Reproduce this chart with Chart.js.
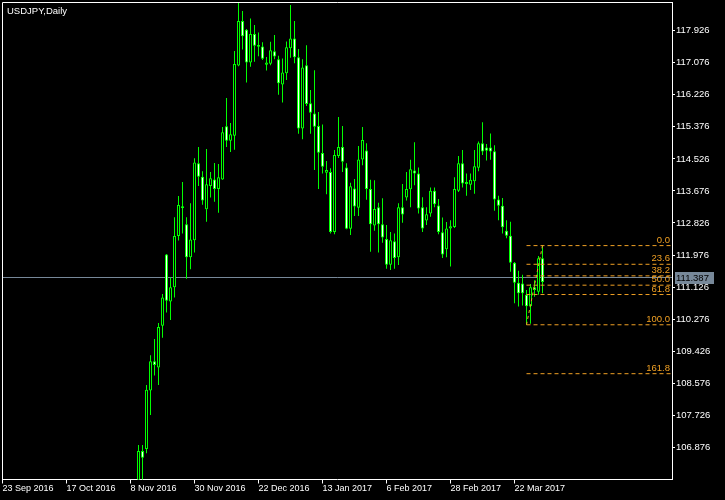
<!DOCTYPE html>
<html>
<head>
<meta charset="utf-8">
<script src="https://cdn.jsdelivr.net/npm/chart.js@4.4.0/dist/chart.umd.min.js"></script>
<style>
  html, body { margin: 0; padding: 0; background: #000; }
  canvas { display: block; }
</style>
</head>
<body>
<canvas id="chart" width="725" height="500"></canvas>
<script>
const symbolTitle = 'USDJPY,Daily';

// daily bars, index 0 = 23 Sep 2016; bars before firstBar lie below the visible range
const firstBar = 34;
const open = [
  105.75,106.78,106.83,108.38,109.16,108.99,110.10,111.99,110.74,111.12,
  112.48,113.27,112.79,111.92,112.37,114.41,114.05,113.19,113.81,113.98,
  113.73,113.98,115.39,115.01,115.14,117.00,118.18,117.95,117.08,117.84,
  117.50,117.51,117.02,117.05,117.38,117.17,116.50,116.80,117.46,117.72,
  117.22,115.33,117.01,116.00,115.73,115.40,114.68,114.16,114.18,112.59,
  114.60,114.84,114.30,112.67,113.74,113.23,114.51,114.75,113.73,112.76,
  113.24,112.79,112.40,111.72,112.34,111.92,113.24,113.50,113.72,114.22,
  114.14,113.24,112.89,113.08,113.68,113.29,112.58,112.13,112.68,112.72,
  113.68,114.41,113.86,113.84,113.93,114.29,114.94,114.83,114.83,114.73,
  113.45,113.28,112.62,112.49,111.77,111.24,111.22,110.92,110.62,111.12,
  111.00,111.89
];
const high = [
  106.94,106.94,108.53,109.32,109.75,110.17,110.94,112.00,111.38,112.98,
  113.54,113.91,112.98,113.35,114.54,114.84,114.20,114.79,114.18,114.42,
  114.39,115.37,116.14,115.48,117.39,118.67,118.45,117.97,118.25,118.08,
  117.88,117.62,117.23,117.63,117.81,117.26,117.19,117.64,118.61,118.18,
  117.44,117.17,117.54,116.35,116.88,115.77,115.44,114.47,114.28,114.76,
  115.64,115.40,114.41,113.89,113.99,114.87,115.37,114.94,113.97,113.96,
  113.36,113.48,112.77,112.59,112.55,113.35,113.86,114.18,114.50,114.97,
  114.30,113.51,113.24,113.77,113.77,113.46,112.97,112.85,112.90,114.04,
  114.60,114.76,114.14,114.14,114.76,114.99,115.50,114.92,115.20,114.89,
  113.55,113.49,112.90,112.86,111.79,111.56,111.45,111.05,111.21,111.31,
  111.95,112.226
];
const low = [
  105.30,105.90,106.72,107.73,108.78,108.53,109.78,110.45,110.25,110.85,
  112.36,112.55,111.35,111.60,112.04,113.81,113.31,112.86,113.50,113.39,
  113.10,113.97,114.84,114.71,114.77,116.98,117.43,116.55,116.97,117.10,
  117.25,117.15,116.87,117.01,117.17,116.23,116.02,116.62,117.21,117.06,
  115.19,115.05,115.93,115.19,114.23,113.73,114.14,113.59,112.55,112.53,
  114.55,114.18,112.66,112.51,113.01,113.01,114.36,113.44,112.06,112.62,
  112.04,112.30,111.61,111.58,111.61,111.71,112.83,113.42,113.24,113.83,
  113.08,112.59,112.77,112.99,113.24,112.53,111.90,111.92,111.67,112.69,
  113.65,113.77,113.55,113.70,113.60,114.20,114.63,114.48,114.50,113.15,
  112.90,112.55,112.42,111.53,110.70,110.61,110.64,110.126,110.15,110.87,
  110.92,110.96
];
const close = [
  106.78,106.60,108.40,109.16,109.06,110.07,110.85,110.76,111.12,112.48,
  113.30,113.22,111.92,112.39,114.43,114.05,113.42,113.85,114.01,113.73,
  114.04,115.23,115.01,115.18,117.04,118.18,117.78,117.08,117.84,117.53,
  117.55,117.18,117.08,117.41,117.24,116.53,116.82,117.49,117.72,117.22,
  115.33,116.95,115.98,115.75,115.38,114.69,114.32,114.23,112.59,114.63,
  114.84,114.45,112.67,113.80,113.26,114.51,115.03,113.73,112.79,113.20,
  112.79,112.44,111.72,112.37,111.90,113.24,113.05,113.73,114.25,114.14,
  113.21,112.68,113.06,113.68,113.32,112.59,111.99,112.68,112.74,113.73,
  114.41,113.87,113.91,113.97,114.33,114.94,114.72,114.74,114.72,113.45,
  113.28,112.71,112.49,111.77,111.24,110.96,110.96,110.62,111.12,111.05,
  111.89,111.26
];

const xTickPos = [0, 16, 32, 48, 64, 80, 96, 112, 128];
const xTickLabels = ['23 Sep 2016', '17 Oct 2016', '8 Nov 2016', '30 Nov 2016', '22 Dec 2016',
  '13 Jan 2017', '6 Feb 2017', '28 Feb 2017', '22 Mar 2017'];
const yTickValues = [106.876, 107.726, 108.576, 109.426, 110.276, 111.126, 111.976,
  112.826, 113.676, 114.526, 115.376, 116.226, 117.076, 117.926];

const bidPrice = 111.387;

// fibonacci retracement drawn from the 27 Mar low to the 31 Mar high
const fibLowBar = 131, fibHighBar = 135;
const fibLow = 110.126, fibHigh = 112.226;
const fibRatios = [0, 23.6, 38.2, 50.0, 61.8, 100.0, 161.8];

const GREEN = '#00ff00';
const FIB = '#f0a024';
const BID = '#778899';
const FONT = '"Liberation Sans", Arial, sans-serif';
Chart.defaults.font.family = FONT;

const barIdx = open.map((o, k) => firstBar + k);
const fibLevel = r => fibHigh - (fibHigh - fibLow) * r / 100;

const fibSets = fibRatios.map(r => ({
  type: 'line',
  data: [{x: fibLowBar, y: fibLevel(r)}, {x: 200, y: fibLevel(r)}],
  borderColor: FIB, borderWidth: 1, borderDash: [4, 3],
  pointRadius: 0, fill: false, order: 0
}));
fibSets.push({
  type: 'line',
  data: [{x: fibLowBar, y: fibLow}, {x: fibHighBar, y: fibHigh}],
  borderColor: FIB, borderWidth: 1, borderDash: [3, 3],
  pointRadius: 0, fill: false, order: 0
});

const decor = {
  id: 'decor',
  beforeDatasetsDraw(chart) {
    const {ctx, chartArea: a, scales: {y}} = chart;
    const py = Math.round(y.getPixelForValue(bidPrice)) + 0.5;
    ctx.save();
    ctx.strokeStyle = BID;
    ctx.lineWidth = 1;
    ctx.beginPath();
    ctx.moveTo(a.left, py);
    ctx.lineTo(a.right, py);
    ctx.stroke();
    ctx.restore();
  },
  afterDatasetsDraw(chart) {
    const {ctx, chartArea: a, scales: {y}} = chart;
    ctx.save();
    ctx.font = '9.5px ' + FONT;
    ctx.fillStyle = FIB;
    ctx.textAlign = 'right';
    ctx.textBaseline = 'alphabetic';
    fibRatios.forEach(r => {
      ctx.fillText(r.toFixed(1), a.right - 2, y.getPixelForValue(fibLevel(r)) - 3);
    });
    ctx.restore();
  },
  afterDraw(chart) {
    const {ctx, chartArea: a, scales: {y}} = chart;
    ctx.save();
    // frame
    ctx.strokeStyle = '#ffffff';
    ctx.lineWidth = 1;
    ctx.beginPath();
    ctx.moveTo(a.left, a.bottom);
    ctx.lineTo(a.left, a.top);
    ctx.lineTo(a.right, a.top);
    ctx.stroke();
    // title
    ctx.font = '9.5px ' + FONT;
    ctx.fillStyle = '#ffffff';
    ctx.textAlign = 'left';
    ctx.textBaseline = 'alphabetic';
    ctx.fillText(symbolTitle, a.left + 4.5, a.top + 11);
    // bid price box
    const py = Math.round(y.getPixelForValue(bidPrice));
    ctx.fillStyle = BID;
    ctx.fillRect(a.right + 3, py - 5, 39, 12);
    ctx.fillStyle = '#000000';
    ctx.textBaseline = 'middle';
    ctx.fillText(bidPrice.toFixed(3), a.right + 4, py + 1);
    ctx.restore();
  }
};

new Chart(document.getElementById('chart'), {
  type: 'bar',
  data: {
    datasets: [
      {
        data: barIdx.map((x, k) => ({x, y: [open[k], close[k]]})),
        backgroundColor: barIdx.map((x, k) => close[k] >= open[k] ? '#000000' : '#ffffff'),
        borderColor: GREEN,
        borderWidth: 1,
        borderSkipped: false,
        barThickness: 3,
        inflateAmount: 0,
        grouped: false,
        order: 1
      },
      {
        data: barIdx.map((x, k) => ({x, y: [low[k], high[k]]})),
        backgroundColor: GREEN,
        borderWidth: 0,
        barThickness: 1,
        inflateAmount: 0,
        grouped: false,
        order: 2
      },
      ...fibSets
    ]
  },
  options: {
    responsive: false,
    animation: false,
    devicePixelRatio: 1,
    layout: {padding: {left: 2.5, top: 2.5, right: 0, bottom: 0}},
    plugins: {legend: {display: false}, tooltip: {enabled: false}, title: {display: false}},
    scales: {
      x: {
        type: 'linear',
        position: 'bottom',
        min: 0,
        max: 167.375,
        offset: false,
        afterFit: s => { s.height = 20.5; s.paddingLeft = 0; s.paddingRight = 0; },
        afterBuildTicks: s => { s.ticks = xTickPos.map(v => ({value: v})); },
        grid: {offset: false, drawOnChartArea: false, drawTicks: true, tickLength: 4, color: '#ffffff'},
        border: {color: '#ffffff'},
        ticks: {
          color: '#ffffff', font: {size: 9}, align: 'start', padding: 0,
          maxRotation: 0, autoSkip: false,
          callback: (v, i) => xTickLabels[i]
        }
      },
      y: {
        type: 'linear',
        position: 'right',
        min: 106.022,
        max: 118.674,
        beginAtZero: false,
        afterFit: s => { s.width = 53; s.paddingTop = 0; s.paddingBottom = 0; },
        afterBuildTicks: s => { s.ticks = yTickValues.map(v => ({value: v})); },
        grid: {drawOnChartArea: false, drawTicks: true, tickLength: 3, color: '#ffffff'},
        border: {color: '#ffffff'},
        ticks: {color: '#ffffff', font: {size: 9.5}, padding: 1, callback: v => v.toFixed(3)}
      }
    }
  },
  plugins: [decor]
});
</script>
</body>
</html>
